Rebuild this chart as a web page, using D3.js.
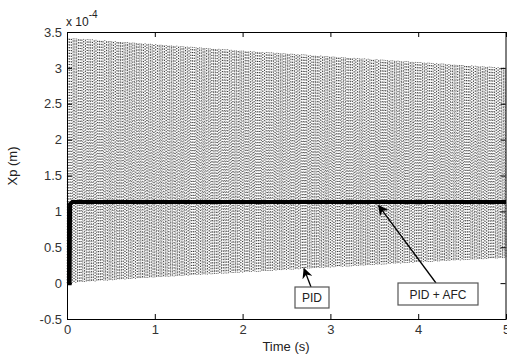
<!DOCTYPE html>
<html>
<head>
<meta charset="utf-8">
<script src="https://cdn.jsdelivr.net/npm/d3@7"></script>
<style>
  body { margin: 0; background: #fff; }
  text { font-family: "Liberation Sans", Arial, sans-serif; fill: #222; }
</style>
</head>
<body>
<div id="chart"></div>
<script>
// Values in units of 1e-4 m
const xTicks = [0, 1, 2, 3, 4, 5];
const yTicks = [-0.5, 0, 0.5, 1, 1.5, 2, 2.5, 3, 3.5];

// PID response: envelope of the fast oscillation
const pidEnvTime = [0, 1, 2, 3, 4, 5];
const pidUpper = [3.42, 3.33, 3.24, 3.16, 3.08, 3.0];
const pidLower = [0.0, 0.08, 0.15, 0.22, 0.29, 0.35];
const pidCycles = 250; // oscillation cycles across 0..5 s

// PID + AFC response
const afcTime = [0, 0.03, 0.035, 0.06, 5];
const afcValue = [0, 0, 1.1, 1.13, 1.13];

const W = 507, H = 356;
const margin = {top: 32, right: 1, bottom: 37, left: 67};
const width = W - margin.left - margin.right;
const height = H - margin.top - margin.bottom;

const svg = d3.select("#chart").append("svg")
    .attr("width", W)
    .attr("height", H);

const g = svg.append("g")
    .attr("transform", `translate(${margin.left},${margin.top})`);

const x = d3.scaleLinear().domain([0, 5]).range([0, width]);
const y = d3.scaleLinear().domain([-0.5, 3.5]).range([height, 0]);

// Build PID oscillation peaks along the read envelope
const upperAt = d3.scaleLinear().domain(pidEnvTime).range(pidUpper);
const lowerAt = d3.scaleLinear().domain(pidEnvTime).range(pidLower);
const pidPts = [[0, 0]];
for (let i = 1; i <= pidCycles * 2; i++) {
    const t = i * 5 / (pidCycles * 2);
    pidPts.push([t, i % 2 ? upperAt(t) : lowerAt(t)]);
}

g.append("path")
    .datum(pidPts)
    .attr("fill", "none")
    .attr("stroke", "#000")
    .attr("stroke-width", 0.9)
    .attr("stroke-opacity", 0.7)
    .attr("stroke-dasharray", "1,1.8")
    .attr("d", d3.line().x(d => x(d[0])).y(d => y(d[1])));

// PID + AFC thick line
g.append("path")
    .datum(afcTime.map((t, i) => [t, afcValue[i]]))
    .attr("fill", "none")
    .attr("stroke", "#000")
    .attr("stroke-width", 4)
    .attr("stroke-linejoin", "miter")
    .attr("d", d3.line().x(d => x(d[0])).y(d => y(d[1])));

// Axes with inward ticks on all sides
g.append("g").attr("transform", `translate(0,${height})`)
    .call(d3.axisBottom(x).tickValues(xTicks).tickSizeInner(-5).tickSizeOuter(0).tickPadding(6)
        .tickFormat(d3.format("d")));
g.append("g")
    .call(d3.axisLeft(y).tickValues(yTicks).tickSizeInner(-5).tickSizeOuter(0).tickPadding(5)
        .tickFormat(d => String(d)));
g.append("g").call(d3.axisTop(x).tickValues(xTicks).tickSizeInner(-5).tickSizeOuter(0).tickFormat(""));
g.append("g").attr("transform", `translate(${width - 0.5},0)`)
    .call(d3.axisRight(y).tickValues(yTicks).tickSizeInner(-5).tickSizeOuter(0).tickFormat(""));

g.selectAll(".tick text").style("font-size", "13px").style("fill", "#333");
g.selectAll(".domain, .tick line").attr("stroke", "#000");

// exponent label
const exp = svg.append("text").attr("x", 66).attr("y", 26).style("font-size", "12px");
exp.append("tspan").text("x 10");
exp.append("tspan").attr("dy", -8).style("font-size", "10px").text("-4");

// axis labels
svg.append("text")
    .attr("x", 286).attr("y", 351)
    .attr("text-anchor", "middle")
    .style("font-size", "13px")
    .text("Time (s)");

svg.append("text")
    .attr("transform", "translate(17,166) rotate(-90)")
    .attr("text-anchor", "middle")
    .style("font-size", "13px")
    .text("Xp (m)");

// annotations
svg.append("defs").append("marker")
    .attr("id", "arr")
    .attr("viewBox", "0 0 10 10")
    .attr("refX", 9).attr("refY", 5)
    .attr("markerWidth", 8).attr("markerHeight", 8)
    .attr("orient", "auto")
    .append("path").attr("d", "M0,0 L10,5 L0,10 L3,5 z").attr("fill", "#000");

const notes = [
    {label: "PID", bx: 295, by: 287, bw: 34, bh: 21, from: [311, 287], to: [x(2.7) + margin.left, y(0.2) + margin.top]},
    {label: "PID + AFC", bx: 398, by: 283, bw: 80, bh: 22, from: [436, 283], to: [x(3.55) + margin.left, y(1.08) + margin.top]}
];

notes.forEach(n => {
    svg.append("line")
        .attr("x1", n.from[0]).attr("y1", n.from[1])
        .attr("x2", n.to[0]).attr("y2", n.to[1])
        .attr("stroke", "#000").attr("stroke-width", 1.3)
        .attr("marker-end", "url(#arr)");
    svg.append("rect")
        .attr("x", n.bx).attr("y", n.by)
        .attr("width", n.bw).attr("height", n.bh)
        .attr("fill", "#fff").attr("stroke", "#555").attr("stroke-width", 1.2);
    svg.append("text")
        .attr("x", n.bx + n.bw / 2).attr("y", n.by + n.bh / 2 + 4.5)
        .attr("text-anchor", "middle")
        .style("font-size", "12px")
        .text(n.label);
});
</script>
</body>
</html>
